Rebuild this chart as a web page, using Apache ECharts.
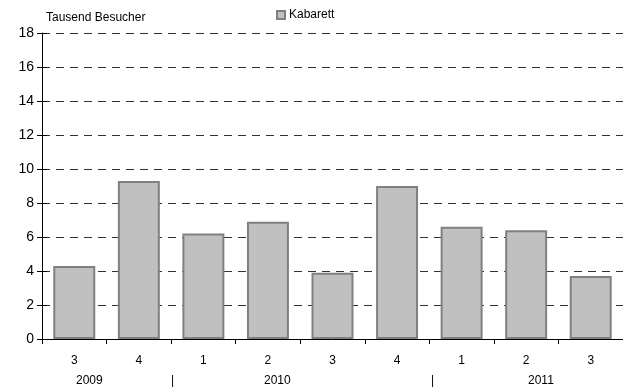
<!DOCTYPE html>
<html>
<head>
<meta charset="utf-8">
<script src="https://cdn.jsdelivr.net/npm/echarts@6/dist/echarts.min.js"></script>
<style>
  html, body { margin: 0; padding: 0; background: #fff; }
  #chart { width: 623px; height: 390px; }
</style>
</head>
<body>
<div id="chart"></div>
<script>
// Quartale (x-Achse) und Werte
var quarters = ['3', '4', '1', '2', '3', '4', '1', '2', '3'];
var kabarett = [4.3, 9.3, 6.2, 6.9, 3.9, 9.0, 6.6, 6.4, 3.7];
var yearLabels = ['2009', '2010', '2011'];
var yearPos = [90, 278, 542];     // x-Position der Jahresbeschriftung
var sepPos = [172, 432];          // Trennstriche zwischen den Jahren

var font = 'Liberation Sans, Arial, sans-serif';
var chart = echarts.init(document.getElementById('chart'));

var graphics = [];
yearLabels.forEach(function (y, i) {
    graphics.push({
        type: 'text', left: yearPos[i] - 14, top: 375,
        style: { text: y, font: '12px ' + font, fill: '#000' }
    });
});
sepPos.forEach(function (x) {
    graphics.push({
        type: 'text', left: x - 1, top: 375,
        style: { text: '|', font: '12px ' + font, fill: '#000' }
    });
});

chart.setOption({
    animation: false,
    textStyle: { fontFamily: font },
    legend: {
        data: ['Kabarett'],
        left: 276, top: 9, padding: 0,
        itemWidth: 8, itemHeight: 8, itemGap: 4,
        icon: 'rect',
        textStyle: { fontSize: 12, color: '#000', padding: [0, 0, 0, -1] }
    },
    grid: { left: 42, top: 33, width: 585, bottom: 51, containLabel: false },
    xAxis: {
        type: 'category',
        data: quarters,
        axisLine: { lineStyle: { color: '#000', width: 1 } },
        axisTick: { show: true, length: 5, alignWithLabel: false, lineStyle: { color: '#000' } },
        axisLabel: { color: '#000', fontSize: 12, margin: 16 }
    },
    yAxis: [{
        type: 'value',
        min: 0, max: 18, interval: 2,
        name: 'Tausend Besucher',
        nameLocation: 'end',
        nameGap: 9,
        nameTextStyle: { color: '#000', fontSize: 12, align: 'left', padding: [0, 0, 0, 4] },
        axisLine: { show: true, lineStyle: { color: '#000' } },
        axisTick: { show: true, length: 5, lineStyle: { color: '#000' } },
        axisLabel: { color: '#000', fontSize: 14, margin: 8 },
        splitLine: { show: true, lineStyle: { color: '#333', type: [8, 6], width: 1 } }
    }, {
        type: 'value',
        position: 'left',
        min: 0, max: 18, interval: 2,
        axisLine: { show: false },
        axisTick: { show: true, inside: true, length: 5, lineStyle: { color: '#000' } },
        axisLabel: { show: false },
        splitLine: { show: false }
    }],
    series: [{
        name: 'Kabarett',
        type: 'bar',
        data: kabarett,
        barWidth: '65%',
        itemStyle: { color: '#c0c0c0', borderColor: '#808080', borderWidth: 2 }
    }],
    graphic: graphics
});
</script>
</body>
</html>
